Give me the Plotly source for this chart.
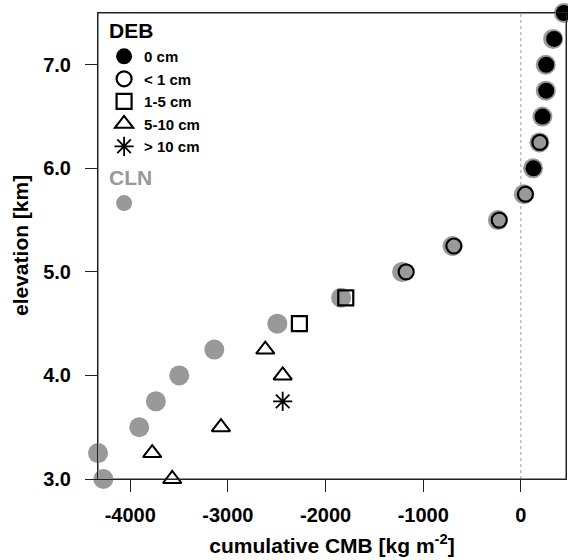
import plotly.graph_objects as go

# CLN (clean ice) cumulative CMB by elevation
cln_elev = [3.0, 3.25, 3.5, 3.75, 4.0, 4.25, 4.5, 4.75, 5.0, 5.25, 5.5, 5.75, 6.0, 6.25, 6.5, 6.75, 7.0, 7.25, 7.5]
cln_cmb = [-4275, -4330, -3908, -3737, -3498, -3139, -2494, -1841, -1216, -700, -235, 30, 125, 190, 220, 255, 255, 330, 440]

# DEB (debris-covered) by debris thickness class
deb0_elev = [6.0, 6.5, 6.75, 7.0, 7.25, 7.5]
deb0_cmb = [129, 222, 259, 259, 341, 440]
deb1_elev = [5.0, 5.25, 5.5, 5.75, 6.25]
deb1_cmb = [-1175, -686, -222, 47, 194]
deb5_elev = [4.5, 4.75]
deb5_cmb = [-2268, -1793]
deb10_elev = [3.0, 3.25, 3.5, 4.0, 4.25]
deb10_cmb = [-3570, -3775, -3071, -2439, -2617]
debgt_elev = [3.75]
debgt_cmb = [-2439]

x_ticks = [-4000, -3000, -2000, -1000, 0]
y_ticks = [3.0, 4.0, 5.0, 6.0, 7.0]

FONT = "Liberation Sans"
GRAY = "#999999"

fig = go.Figure()
fig.add_trace(go.Scatter(
    x=cln_cmb, y=cln_elev, mode="markers", name=" ",
    marker=dict(symbol="circle", size=20, color=GRAY, line=dict(width=0)),
    legendgroup="cln", legendgrouptitle=dict(text="<b>CLN</b>", font=dict(color=GRAY, size=21, family=FONT)),
    legendrank=2000, cliponaxis=False))
series = [
    (deb0_cmb, deb0_elev, "0 cm", dict(symbol="circle", size=16, color="black", line=dict(width=0))),
    (deb1_cmb, deb1_elev, "< 1 cm", dict(symbol="circle-open", size=15, color="black", line=dict(width=2.2, color="black"))),
    (deb5_cmb, deb5_elev, "1-5 cm", dict(symbol="square-open", size=15, color="black", line=dict(width=2.2, color="black"))),
    (deb10_cmb, deb10_elev, "5-10 cm", dict(symbol="triangle-up-open", size=16, color="black", line=dict(width=2, color="black"))),
    (debgt_cmb, debgt_elev, "> 10 cm", dict(symbol="asterisk-open", size=16, color="black", line=dict(width=1.8, color="black"))),
]
for i, (xs, ys, nm, mk) in enumerate(series):
    fig.add_trace(go.Scatter(
        x=xs, y=ys, mode="markers", name="<b>" + nm + "</b>", marker=mk,
        legendgroup="deb", legendgrouptitle=dict(text="<b>DEB</b>", font=dict(color="black", size=21, family=FONT)),
        legendrank=i + 1, cliponaxis=False))

fig.add_vline(x=0, line=dict(color=GRAY, width=1, dash="dot"), layer="below")
# plot frame (box around the panel)
fig.add_shape(type="rect", xref="paper", yref="paper", x0=0, y0=0, x1=1, y1=1,
              line=dict(color="#222", width=1), layer="below")

# y-axis title as a rotated annotation so it can sit where the reference has it
fig.add_annotation(text="<b>elevation [km]</b>", xref="paper", yref="paper", x=0, y=0.5,
                   xanchor="center", yanchor="middle", xshift=-78, textangle=-90,
                   showarrow=False, font=dict(size=21, family=FONT, color="black"))

fig.update_layout(
    width=568, height=560,
    margin=dict(l=98, r=2, t=13, b=81, autoexpand=False),
    paper_bgcolor="white", plot_bgcolor="rgba(0,0,0,0)",
    font=dict(family=FONT, color="black"),
    showlegend=True,
    legend=dict(x=0.013, y=1.007, xanchor="left", yanchor="top",
                bgcolor="rgba(0,0,0,0)", borderwidth=0,
                font=dict(size=15, family=FONT, color="black"),
                traceorder="grouped", tracegroupgap=4, itemclick=False, itemdoubleclick=False),
    xaxis=dict(range=[-4330, 462], tickvals=x_ticks, ticktext=["<b>%d</b>" % v for v in x_ticks],
               showgrid=False, zeroline=False, showline=True, linecolor="#222", linewidth=1, mirror=True,
               ticks="outside", ticklen=12, tickcolor="#222", tickfont=dict(size=20, family=FONT),
               ticklabelstandoff=6, automargin=False,
               title=dict(text="<b>cumulative CMB [kg m<sup>-2</sup>]</b>", font=dict(size=21, family=FONT), standoff=13)),
    yaxis=dict(range=[3.0, 7.5], tickvals=y_ticks, ticktext=["<b>%.1f</b>" % v for v in y_ticks],
               showgrid=False, zeroline=False, showline=True, linecolor="#222", linewidth=1, mirror=True,
               ticks="outside", ticklen=12, tickcolor="#222", tickfont=dict(size=20, family=FONT),
               ticklabelstandoff=10, automargin=False),
)

fig.write_html(
    "out.html",
    config={"displayModeBar": False, "staticPlot": True},
    post_script="document.body.style.margin='0';document.documentElement.style.overflow='hidden';document.body.style.overflow='hidden';",
)
